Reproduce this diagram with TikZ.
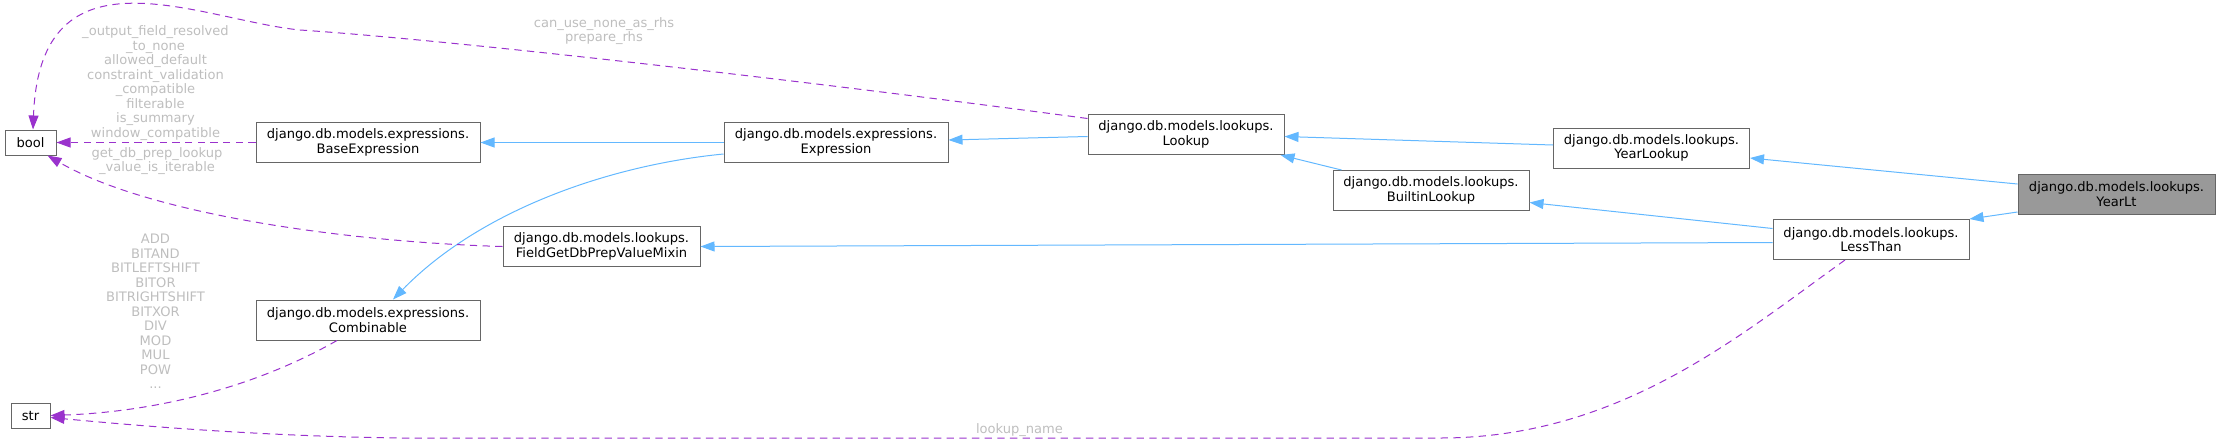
\documentclass[tikz,border=0pt]{standalone}
\usepackage{fontspec}
\setmainfont{DejaVu Sans}
\usepackage{tikz}
\usetikzlibrary{arrows.meta,calc}
\definecolor{nodeedge}{HTML}{666666}
\definecolor{nodefocus}{HTML}{999999}
\definecolor{inherit}{HTML}{63B8FF}
\definecolor{usage}{HTML}{9A32CD}
\definecolor{labelc}{HTML}{BEBEBE}
\tikzset{
  cls/.style={draw=nodeedge,line width=0.75pt,fill=white,inner sep=0pt,align=center,
    font=\fontsize{9.8}{10.9}\selectfont,minimum height=30pt},
  clsfocus/.style={cls,fill=nodefocus},
  leaf/.style={cls,minimum height=18.75pt},
  inh/.style={draw=inherit,line width=0.75pt,-{Triangle[length=10.5pt,width=7.5pt]}},
  use/.style={draw=usage,line width=0.75pt,dash pattern=on 5.5pt off 4pt,
    -{Triangle[length=10.5pt,width=7.5pt]}},
  elabel/.style={font=\fontsize{9.8}{10.9}\selectfont,text=labelc,align=center,inner sep=0pt},
}

\begin{document}
\begin{tikzpicture}[x=0.75pt,y=-0.75pt]
  \useasboundingbox (0,0) rectangle (2220,444);
  % --- classes ---
  \node[leaf,minimum width=38.25pt](bool) at (30.5,142.5){bool};
  \node[leaf,minimum width=29.25pt](str) at (30.5,415.5){str};
  \node[cls,minimum width=168pt](base) at (368,142.5){django.db.models.expressions.\\BaseExpression};
  \node[cls,minimum width=168pt](comb) at (368,320){django.db.models.expressions.\\Combinable};
  \node[cls,minimum width=147.75pt](field) at (601.5,246.5){django.db.models.lookups.\\FieldGetDbPrepValueMixin};
  \node[cls,minimum width=168pt](expr) at (836,142.5){django.db.models.expressions.\\Expression};
  \node[cls,minimum width=147pt](lookup) at (1186,134.5){django.db.models.lookups.\\Lookup};
  \node[cls,minimum width=147pt](builtin) at (1431,190.5){django.db.models.lookups.\\BuiltinLookup};
  \node[cls,minimum width=147pt](yearlookup) at (1651.5,148){django.db.models.lookups.\\YearLookup};
  \node[cls,minimum width=147pt](lessthan) at (1871,239.5){django.db.models.lookups.\\LessThan};
  \node[clsfocus,minimum width=147.75pt](yearlt) at (2116.5,194){django.db.models.lookups.\\YearLt};

  % --- inheritance ---
  \draw[inh] ($(yearlt.west)+(0,-10)$) -- ($(yearlookup.east)+(0,10)$);
  \draw[inh] ($(yearlt.west)+(0,18)$) -- (lessthan.north east);
  \draw[inh] ($(yearlookup.west)+(0,-3)$) -- ($(lookup.east)+(0,2)$);
  \draw[inh] ($(builtin.north west)+(9,0)$) -- ($(lookup.south east)+(-4,0)$);
  \draw[inh] ($(lessthan.west)+(0,-11)$) -- ($(builtin.east)+(0,12)$);
  \draw[inh] ($(lessthan.west)+(0,3)$) -- (field.east);
  \draw[inh] ($(lookup.west)+(0,2)$) -- ($(expr.east)+(0,-2.5)$);
  \draw[inh] (expr.west) -- (base.east);
  \draw[inh] ($(expr.west)+(0,11.5)$) .. controls (610,165) and (480,210) .. ($(comb.north)+(25,0)$);

  % --- usage ---
  \draw[use] (base.west) -- (bool.east);
  \draw[use] (field.west) .. controls (350,242) and (150,215) .. ($(bool.south east)+(-9,0)$);
  \draw[use] ($(lookup.north west)+(0,4.5)$) .. controls (800,80) and (450,40) .. (300,30)
    .. controls (200,20) and (40,-60) .. ($(bool.north)+(2.5,0)$);
  \draw[use] ($(comb.south)+(-31,0)$) .. controls (250,390) and (150,412) .. (str.east);
  \draw[use] ($(lessthan.south)+(-26,0)$) .. controls (1740,335) and (1620,438) .. (1440,438)
    -- (400,438) .. controls (250,436) and (120,424) .. ($(str.east)+(0,2)$);

  % --- member labels ---
  \node[elabel](lbool) at (155.5,83){\_output\_field\_resolved\\\_to\_none\\allowed\_default\\
    constraint\_validation\\\_compatible\\filterable\\is\_summary\\window\_compatible};
  \node[elabel](lprep) at (157,161.3){get\_db\_prep\_lookup\\\_value\_is\_iterable};
  \node[elabel](lops) at (155.5,311.5){ADD\\BITAND\\BITLEFTSHIFT\\BITOR\\BITRIGHTSHIFT\\
    BITXOR\\DIV\\MOD\\MUL\\POW\\...};
  \node[elabel](lrhs) at (604,31){can\_use\_none\_as\_rhs\\prepare\_rhs};
  \node[elabel](lname) at (1019.5,430){lookup\_name};
\end{tikzpicture}
\end{document}
